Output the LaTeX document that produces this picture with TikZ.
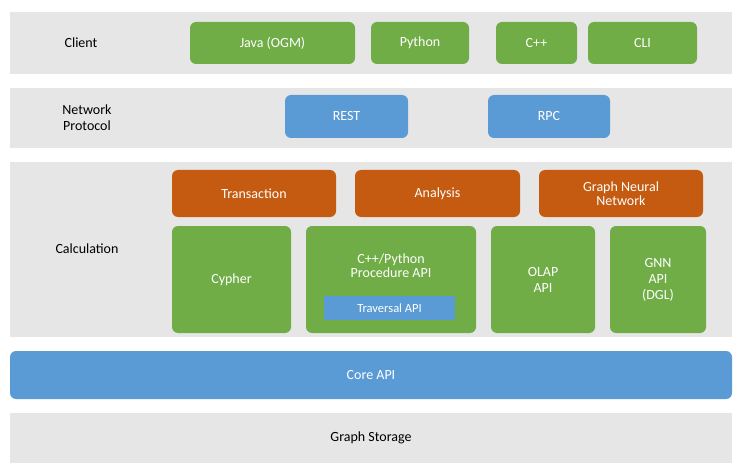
\documentclass[tikz,border=0pt]{standalone}
\usepackage{fontspec}
\setmainfont{Carlito}
\definecolor{band}{HTML}{E7E6E6}
\definecolor{grn}{HTML}{70AD47}
\definecolor{blu}{HTML}{5B9BD5}
\definecolor{org}{HTML}{C55A11}
\begin{document}
\begin{tikzpicture}[x=1pt,y=-1pt,
 band/.style={fill=band,draw=none},
 box/.style={draw=none,rounded corners=6pt,text=white,font=\fontsize{14}{16}\selectfont,align=center},
 lbl/.style={font=\fontsize{14}{16}\selectfont,align=center,text=black}]
\useasboundingbox (0,0) rectangle (742,476);
\fill[white] (0,0) rectangle (742,476);
\def\bx#1#2#3#4#5#6#7{\path[box,fill=#6] (#2,#3) rectangle (#4,#5) node[midway] (#1) {#7};}
\path[band] (10,12) rectangle (732,74) node[lbl,pos=0.5,xshift=-290pt] (client) {Client};
\path[band] (10,88) rectangle (732,148);
\path[band] (10,162) rectangle (732,337);
\path[band] (10,413) rectangle (732,463) node[midway,lbl] (gs) {Graph Storage};
\path[box,fill=blu] (10,351) rectangle (732,399) node[midway] (core) {Core API};
\node[lbl] (np) at (87,118) {Network\\Protocol};
\node[lbl] (calc) at (87,249) {Calculation};
\bx{java}{190}{22}{355}{64}{grn}{Java (OGM)}
\bx{py}{371}{22}{469}{64}{grn}{Python}
\bx{cpp}{496}{22}{577}{64}{grn}{C++}
\bx{cli}{588}{22}{697}{64}{grn}{CLI}
\bx{rest}{285}{95}{408}{138}{blu}{REST}
\bx{rpc}{488}{95}{610}{138}{blu}{RPC}
\bx{tx}{172}{170}{336}{217}{org}{Transaction}
\bx{an}{355}{170}{520}{217}{org}{Analysis}
\bx{gnnt}{539}{170}{703}{217}{org}{Graph Neural\\[-2pt]Network}
\bx{cy}{172}{226}{291}{333}{grn}{Cypher}
\path[box,fill=grn] (306,226) rectangle (476,333);
\node[box] (proc) at (391,266) {C++/Python\\[-2pt]Procedure API};
\path[draw=none,fill=blu] (324,296) rectangle (455,320) node[midway,text=white,font=\fontsize{12.5}{14}\selectfont] (trav) {Traversal API};
\bx{olap}{491}{226}{595}{333}{grn}{OLAP\\API}
\bx{gnn}{610}{226}{706}{333}{grn}{GNN\\API\\(DGL)}
\end{tikzpicture}
\end{document}
